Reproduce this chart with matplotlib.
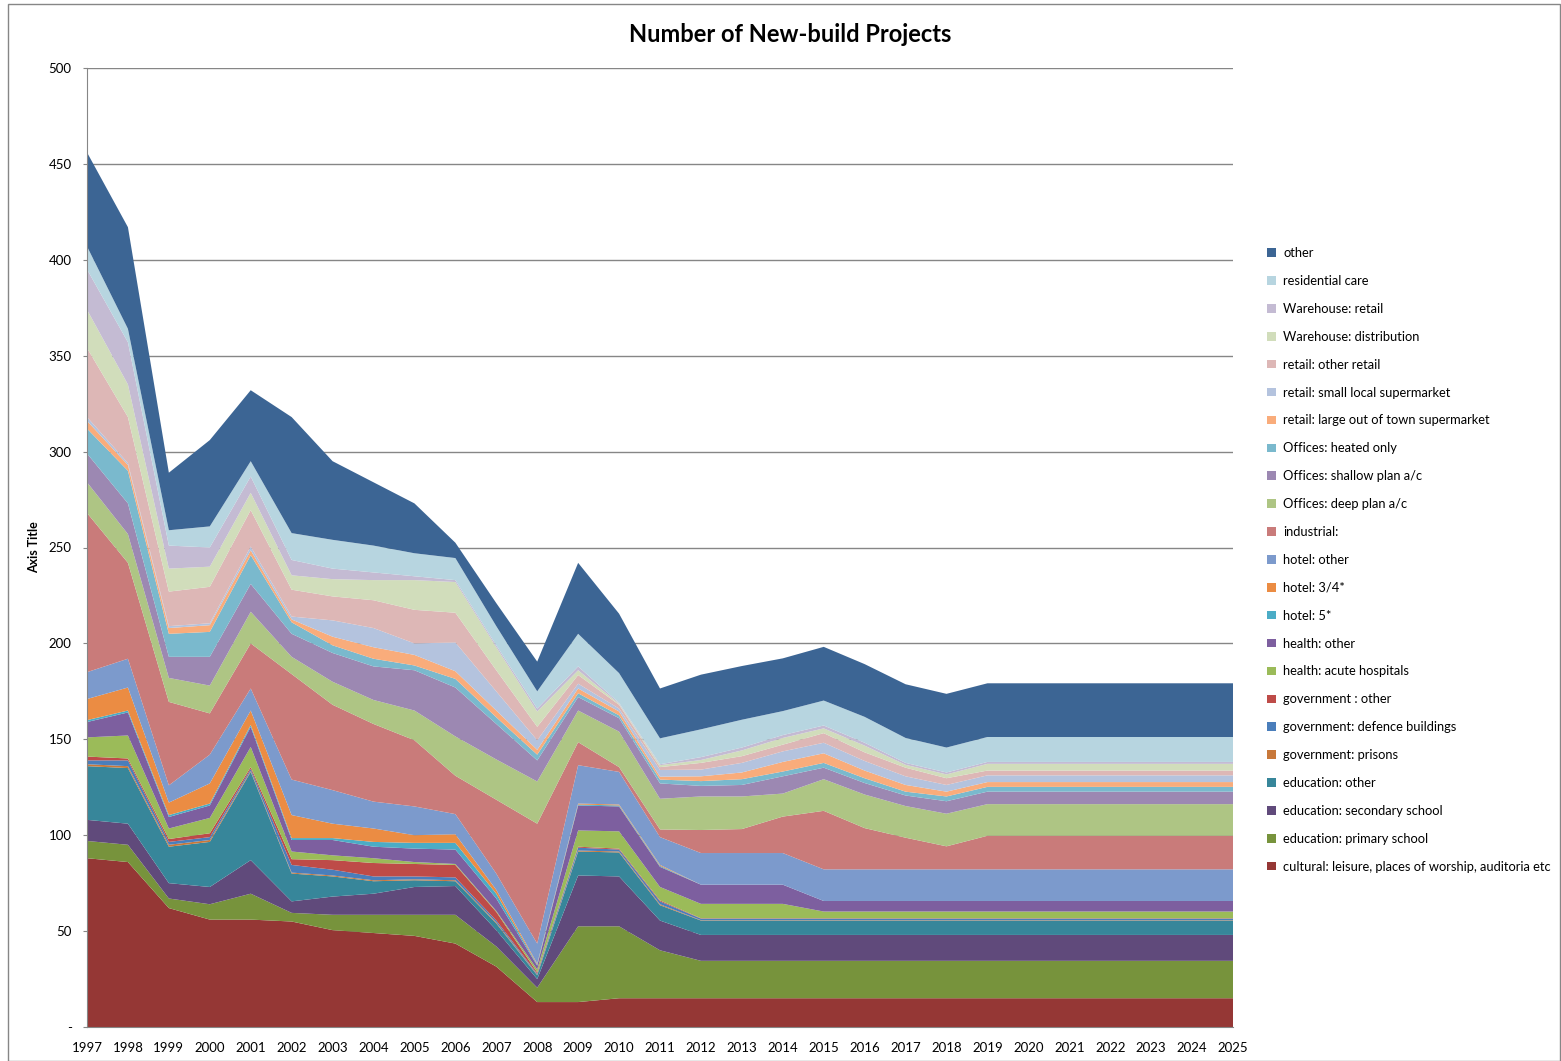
import matplotlib
matplotlib.use('Agg')
import matplotlib.pyplot as plt
from matplotlib.patches import Patch, Rectangle

plt.rcParams['font.family'] = ['Lato', 'DejaVu Sans']

# ---- data ----
years = list(range(1997, 2026))

cultural = [88, 86, 62, 56, 56, 55, 50.5, 49, 47.5, 43.5, 31.5, 13, 13, 15, 15,
            15, 15, 15, 15, 15, 15, 15, 15, 15, 15, 15, 15, 15, 15]
primary = [9, 9, 5, 8, 13.5, 4.5, 8, 9.5, 11, 15, 10.5, 7.5, 39.5, 37.5, 25,
           19.5, 19.5, 19.5, 19.5, 19.5, 19.5, 19.5, 19.5, 19.5, 19.5, 19.5, 19.5, 19.5, 19.5]
secondary = [11, 11, 8, 9, 17.5, 6, 9.5, 11, 14.5, 15, 8.5, 4.5, 26.5, 26, 15.5,
             13.5, 13.5, 13.5, 13.5, 13.5, 13.5, 13.5, 13.5, 13.5, 13.5, 13.5, 13.5, 13.5, 13.5]
edu_other = [28, 29, 19, 23.5, 46, 14.5, 10.5, 6.5, 3.5, 2.5, 3.5, 2, 12.5, 12.5, 8,
             7.5, 7.5, 7.5, 7.5, 7.5, 7.5, 7.5, 7.5, 7.5, 7.5, 7.5, 7.5, 7.5, 7.5]
prisons = [1, 1, 1, 1, 0.5, 0.5, 0.5, 0.5, 0.5, 0.5, 0.5, 0.3, 0.5, 0.5, 0.5,
           0.2, 0.2, 0.2, 0.2, 0.2, 0.2, 0.2, 0.2, 0.2, 0.2, 0.2, 0.2, 0.2, 0.2]
defence = [2, 3, 1.5, 1.5, 1, 4, 3, 2, 1.5, 1.5, 1, 0.5, 1.5, 1, 1.5,
           0.8, 0.8, 0.8, 0.8, 0.8, 0.8, 0.8, 0.8, 0.8, 0.8, 0.8, 0.8, 0.8, 0.8]
gov_other = [2, 1, 1.5, 2, 1, 3, 5, 7, 6.5, 6.5, 4.5, 0.7, 0.5, 0.5, 0.5,
             0.2, 0.2, 0.2, 0.2, 0.2, 0.2, 0.2, 0.2, 0.2, 0.2, 0.2, 0.2, 0.2, 0.2]
acute = [10, 12, 5.5, 8, 10.5, 4, 2.5, 2.5, 1, 0.5, 0.5, 1.5, 8.5, 9, 7,
         7.5, 7.5, 7.5, 3.5, 3.5, 3.5, 3.5, 3.5, 3.5, 3.5, 3.5, 3.5, 3.5, 3.5]
health_other = [8, 12, 6, 6.5, 10.5, 6, 8, 6, 7, 7.5, 6.5, 2, 13, 13, 10.5,
                10, 10, 10, 5.5, 5.5, 5.5, 5.5, 5.5, 5.5, 5.5, 5.5, 5.5, 5.5, 5.5]
hotel_5 = [1, 1, 1, 1, 1, 1, 1, 2.5, 3, 3.5, 2.5, 0.5, 0.5, 0.5, 0.5,
           0, 0, 0, 0, 0, 0, 0, 0, 0, 0, 0, 0, 0, 0]
hotel_34 = [11, 12, 6.5, 10.5, 7.5, 12, 7.5, 7, 4, 4.5, 2, 0.5, 0.5, 0.5, 0.5,
            0, 0, 0, 0, 0, 0, 0, 0, 0, 0, 0, 0, 0, 0]
hotel_other = [14, 15, 9, 15, 11.5, 18.5, 17.5, 14, 15, 10.5, 8.5, 10.5, 20, 17, 14.5,
               16.5, 16.5, 16.5, 16.5, 16.5, 16.5, 16.5, 16.5, 16.5, 16.5, 16.5, 16.5, 16.5, 16.5]
industrial = [83, 50, 43.5, 21.5, 23.5, 55, 44.5, 40.5, 34.5, 20, 38.5, 62.5, 12, 2.5, 4,
              12, 12.5, 19, 30.5, 21.5, 16.5, 12, 17.5, 17.5, 17.5, 17.5, 17.5, 17.5, 17.5]
off_deep = [16, 15, 12.5, 14.5, 16.5, 9, 12, 12.5, 15.5, 20.5, 21, 22, 16.5, 18.5, 16,
            17.5, 17, 12, 16.5, 17.5, 16.5, 17, 16.5, 16.5, 16.5, 16.5, 16.5, 16.5, 16.5]
off_shallow = [15, 16, 11, 15, 14.5, 12, 15, 17.5, 21, 25.5, 18.5, 11, 7, 7, 8,
               5.5, 6, 9, 6, 6, 5.5, 6.5, 6.5, 6.5, 6.5, 6.5, 6.5, 6.5, 6.5]
off_heated = [13, 17, 12, 13, 15, 6, 4, 4, 2.5, 4.5, 3.5, 3, 2, 1.5, 2,
              2.5, 3, 2.5, 2.5, 2.5, 2, 2.5, 2.5, 2.5, 2.5, 2.5, 2.5, 2.5, 2.5]
ret_large = [4, 3, 3, 3.5, 2.5, 1.5, 4.5, 6, 5.5, 4, 3.5, 2.5, 2.5, 2, 1.5,
             2.5, 3.5, 5, 5, 4, 3.5, 2.5, 2.5, 2.5, 2.5, 2.5, 2.5, 2.5, 2.5]
ret_small = [2, 1, 1, 1, 2, 1.5, 8.5, 10, 6, 15, 10, 5, 2.5, 1.5, 3.5,
             3.5, 5, 5.5, 5.5, 5, 4.5, 3.5, 3.5, 3.5, 3.5, 3.5, 3.5, 3.5, 3.5]
ret_other = [36, 24, 18, 19, 19, 14, 12.5, 14.5, 17.5, 15.5, 11, 7, 4.5, 2, 1.5,
             3.5, 3.5, 3.5, 5, 4.5, 4.5, 3.5, 2.5, 2.5, 2.5, 2.5, 2.5, 2.5, 2.5]
wh_dist = [20, 17, 12, 10.5, 9, 7.5, 9, 10.5, 15.5, 16, 12, 8, 2.5, 0.5, 1,
           1.5, 3, 3.5, 2.5, 3.5, 1.5, 2, 3.5, 3.5, 3.5, 3.5, 3.5, 3.5, 3.5]
wh_retail = [21, 22, 12, 10, 8.5, 8, 5.5, 4, 2, 1, 1, 1.5, 2, 0.5, 0.5,
             1.5, 1.5, 1.5, 1.5, 1.5, 1, 1, 1, 1, 1, 1, 1, 1, 1]
res_care = [12, 7, 8, 11, 8, 14, 15, 14, 12, 11.5, 10, 9, 17, 15.5, 13.5,
            14.5, 14.5, 12.5, 13, 13.5, 13, 13, 13, 13, 13, 13, 13, 13, 13]
other = [49, 53, 30, 45, 37, 60.5, 41, 33, 26, 8, 12, 15.5, 37, 31, 26,
         28.5, 28, 27.5, 28, 27.5, 28, 28, 28, 28, 28, 28, 28, 28, 28]

labels = ['cultural: leisure, places of worship, auditoria etc',
          'education: primary school', 'education: secondary school',
          'education: other', 'government: prisons',
          'government: defence buildings', 'government : other',
          'health: acute hospitals', 'health: other', 'hotel: 5*',
          'hotel: 3/4*', 'hotel: other', 'industrial:',
          'Offices: deep plan a/c', 'Offices: shallow plan a/c',
          'Offices: heated only', 'retail: large out of town supermarket',
          'retail: small local supermarket', 'retail: other retail',
          'Warehouse: distribution', 'Warehouse: retail',
          'residential care', 'other']
series = [cultural, primary, secondary, edu_other, prisons, defence, gov_other,
          acute, health_other, hotel_5, hotel_34, hotel_other, industrial,
          off_deep, off_shallow, off_heated, ret_large, ret_small, ret_other,
          wh_dist, wh_retail, res_care, other]
colors = ['#953735', '#77933C', '#604A7B', '#37869A', '#C8783A', '#4A7EBB',
          '#BE4B48', '#9BBB59', '#7D5F9F', '#4BACC6', '#EB8C43', '#7C9ACC',
          '#C97B7A', '#AEC584', '#9C88B2', '#7AB9CD', '#F9AC7B', '#B4C3DE',
          '#DDB7B6', '#D1DDBB', '#C4BBD3', '#B7D5E0', '#3C6594']

W, H = 1561, 1061
fig = plt.figure(figsize=(W / 100, H / 100), dpi=100)
ax = fig.add_axes([87 / W, 1 - 1027 / H, (1233 - 87) / W, (1027 - 68) / H])

ax.stackplot(years, *series, colors=colors, labels=labels, linewidth=0)

ax.set_xlim(1997, 2025)
ax.set_ylim(0, 500)
ax.set_yticks(range(0, 501, 50))
ax.set_yticklabels(['-'] + [str(v) for v in range(50, 501, 50)])
ax.set_xticks(years)
ax.set_xticklabels([str(y) for y in years])
ax.tick_params(axis='both', labelsize=9.5, colors='#000000', length=3,
               width=0.8, direction='out')
ax.tick_params(axis='x', length=0, pad=11)
ax.tick_params(axis='y', color='#868686', pad=8)

ax.grid(axis='y', color='#868686', linewidth=1)
ax.set_axisbelow(True)
for s in ['top', 'right']:
    ax.spines[s].set_visible(False)
for s in ['left', 'bottom']:
    ax.spines[s].set_color('#868686')

ax.set_ylabel('Axis Title', fontsize=9, fontweight='bold', labelpad=6)
fig.text(790 / W, 1 - 34 / H, 'Number of New-build Projects', ha='center',
         va='center', fontsize=17, fontweight='bold')

handles = [Patch(facecolor=c, edgecolor='none') for c in colors][::-1]
fig.legend(handles, labels[::-1], loc='upper left',
           bbox_to_anchor=(1262 / W, 1 - 242 / H), frameon=False,
           fontsize=9.3, handlelength=0.65, handleheight=0.65,
           handletextpad=0.6, labelspacing=1.23, borderaxespad=0)

fig.patches.append(Rectangle((8 / W, 0), (W - 9) / W, 1 - 4 / H,
                             transform=fig.transFigure, fill=False,
                             edgecolor='#868686', linewidth=1))

fig.savefig('out.png', dpi=100)
